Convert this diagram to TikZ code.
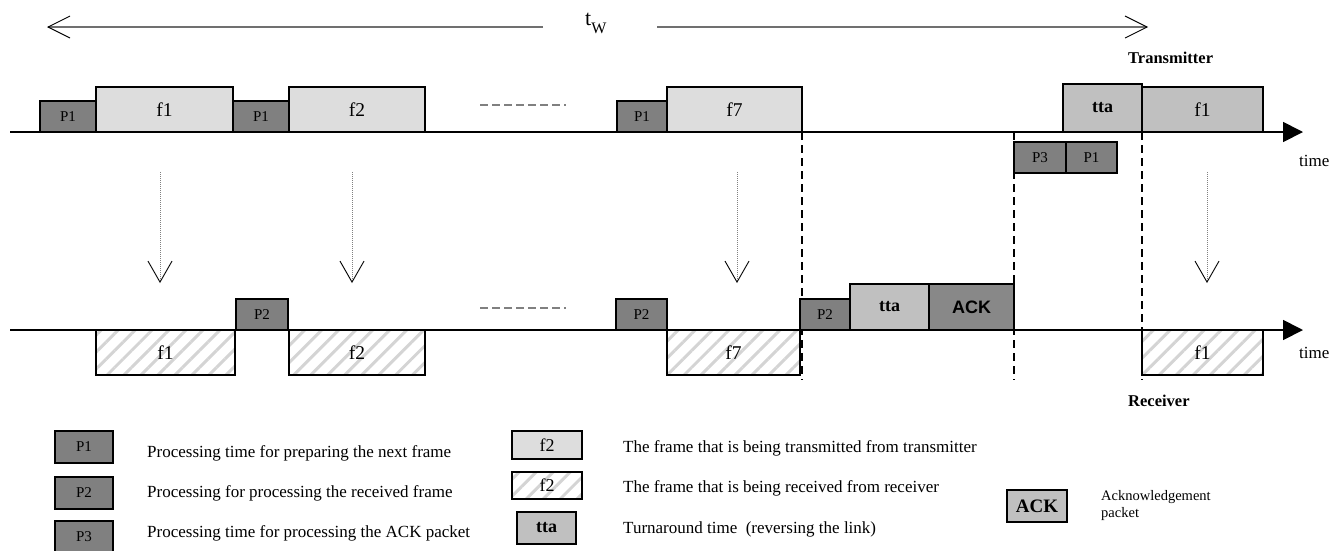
\documentclass[tikz,border=0pt]{standalone}
\usepackage{fontspec}
\setmainfont{Liberation Serif}
\newfontfamily\arialfont{Liberation Sans}
\usetikzlibrary{arrows.meta,patterns.meta}
\definecolor{pdark}{HTML}{808080}
\definecolor{flight}{HTML}{DDDDDD}
\definecolor{fmid}{HTML}{C0C0C0}
\definecolor{ackdark}{HTML}{888888}
\definecolor{hatchgray}{HTML}{D4D4D4}
\definecolor{twgray}{HTML}{707070}
\newcommand\fs[1]{\fontsize{#1}{#1}\selectfont}
\begin{document}
\begin{tikzpicture}[x=1pt,y=-1pt,
  box/.style={draw=black,line width=1.5pt,inner sep=0pt,outer sep=0pt},
  pbox/.style={box,fill=pdark,font=\fs{15}},
  fbox/.style={box,fill=flight,font=\fs{19.5}},
  mbox/.style={box,fill=fmid,font=\fs{19.5}},
  hbox/.style={box,pattern={Lines[angle=45,distance=12pt,line width=3pt]},pattern color=hatchgray,font=\fs{19.5}},
  ttabox/.style={box,fill=fmid,font=\fs{18}\bfseries},
  ackbox/.style={box,fill=ackdark,font=\arialfont\fs{18}\bfseries},
  legtext/.style={anchor=base west,inner sep=0pt,font=\fs{17}},
  timeline/.style={line width=1.8pt,-{Triangle[length=20pt,width=20pt]}},
  vdash/.style={line width=1.6pt,dash pattern=on 8pt off 5pt},
  dotarrow/.style={draw=gray,line width=0.8pt,dash pattern=on 1pt off 1pt,-{Straight Barb[length=21pt,width=24pt,line width=0.9pt,color=black]}},
  twline/.style={draw=twgray,line width=1.3pt,-{Straight Barb[length=22pt,width=22pt,line width=0.9pt,color=black]}},
  gdash/.style={draw=gray,line width=1.5pt,dash pattern=on 8pt off 4pt}
]
\useasboundingbox (0,0) rectangle (1333,550);

% t_w span arrow
\coordinate (twl) at (47,27);
\coordinate (twla) at (543,27);
\coordinate (twra) at (657,27);
\coordinate (twr) at (1148,27);
\draw[twline] (twla) -- (twl);
\draw[twline] (twra) -- (twr);
\node[anchor=base west,inner sep=0pt] (tw) at (585,25) {\fs{22}t\raisebox{-8pt}{\fs{16}W}};

\node[anchor=base west,inner sep=0pt,font=\fs{16.5}\bfseries] (tx) at (1128,63) {Transmitter};
\node[anchor=base west,inner sep=0pt,font=\fs{16.5}\bfseries] (rx) at (1128,406) {Receiver};
\node[anchor=base west,inner sep=0pt,font=\fs{17}] (time1) at (1299,166) {time};
\node[anchor=base west,inner sep=0pt,font=\fs{17}] (time2) at (1299,358) {time};

% vertical dashed lines
\coordinate (v1t) at (802,132); \coordinate (v1b) at (802,380);
\coordinate (v2t) at (1014,132); \coordinate (v2b) at (1014,380);
\coordinate (v3t) at (1142,132); \coordinate (v3b) at (1142,380);
\draw[vdash] (v1t) -- (v1b);
\draw[vdash] (v2t) -- (v2b);
\draw[vdash] (v3t) -- (v3b);

% timelines
\coordinate (ta) at (10,132); \coordinate (tb) at (1303,132);
\coordinate (ra) at (10,330); \coordinate (rb) at (1303,330);
\draw[timeline] (ta) -- (tb);
\draw[timeline] (ra) -- (rb);

% dotted propagation arrows
\foreach \x/\n in {160/a,352/b,737/c,1207/d}{
  \coordinate (ds\n) at (\x,172);
  \coordinate (de\n) at (\x,283);
  \draw[dotarrow] (ds\n) -- (de\n);
}

% gray dash "------."
\coordinate (g1a) at (480,105); \coordinate (g1b) at (566,105);
\coordinate (g2a) at (480,308); \coordinate (g2b) at (566,308);
\draw[gdash] (g1a) -- (g1b);
\draw[gdash] (g2a) -- (g2b);

% transmitter row
\node[pbox,anchor=south west,minimum width=56pt,minimum height=31pt] (tp1a) at (40,132) {P1};
\node[fbox,anchor=south west,minimum width=137pt,minimum height=45pt] (tf1) at (96,132) {f1};
\node[pbox,anchor=south west,minimum width=56pt,minimum height=31pt] (tp1b) at (233,132) {P1};
\node[fbox,anchor=south west,minimum width=136pt,minimum height=45pt] (tf2) at (289,132) {f2};
\node[pbox,anchor=south west,minimum width=50pt,minimum height=31pt] (tp1c) at (617,132) {P1};
\node[fbox,anchor=south west,minimum width=135pt,minimum height=45pt] (tf7) at (667,132) {f7};
\node[ttabox,anchor=south west,minimum width=79pt,minimum height=48pt] (ttta) at (1063,132) {tta};
\node[mbox,anchor=south west,minimum width=121pt,minimum height=45pt] (tf1r) at (1142,132) {f1};
\node[pbox,anchor=north west,minimum width=52pt,minimum height=31pt] (tp3) at (1014,142) {P3};
\node[pbox,anchor=north west,minimum width=51pt,minimum height=31pt] (tp1d) at (1066,142) {P1};

% receiver row
\node[hbox,anchor=north west,minimum width=139pt,minimum height=45pt] (bf1) at (96,330) {f1};
\node[pbox,anchor=south west,minimum width=52pt,minimum height=31pt] (bp2a) at (236,330) {P2};
\node[hbox,anchor=north west,minimum width=136pt,minimum height=45pt] (bf2) at (289,330) {f2};
\node[pbox,anchor=south west,minimum width=51pt,minimum height=31pt] (bp2b) at (616,330) {P2};
\node[hbox,anchor=north west,minimum width=133pt,minimum height=45pt] (bf7) at (667,330) {f7};
\node[pbox,anchor=south west,minimum width=50pt,minimum height=31pt] (bp2c) at (800,330) {P2};
\node[ttabox,anchor=south west,minimum width=79pt,minimum height=46pt] (btta) at (850,330) {tta};
\node[ackbox,anchor=south west,minimum width=85pt,minimum height=46pt] (back) at (929,330) {ACK};
\node[hbox,anchor=north west,minimum width=121pt,minimum height=45pt] (bf1r) at (1142,330) {f1};

% legend
\node[pbox,anchor=north west,minimum width=58pt,minimum height=32pt] (lp1) at (55,431) {P1};
\node[pbox,anchor=north west,minimum width=58pt,minimum height=32pt] (lp2) at (55,477) {P2};
\node[pbox,anchor=north west,minimum width=58pt,minimum height=32pt] (lp3) at (55,521) {P3};
\node[legtext] (lt1) at (147,457) {Processing time for preparing the next frame};
\node[legtext] (lt2) at (147,497) {Processing for processing the received frame};
\node[legtext] (lt3) at (147,537) {Processing time for processing the ACK packet};

\node[fbox,anchor=north west,minimum width=70pt,minimum height=28pt,font=\fs{18}] (lf) at (512,431) {f2};
\node[hbox,anchor=north west,minimum width=70pt,minimum height=27pt,font=\fs{18}] (lh) at (512,472) {f2};
\node[ttabox,anchor=north west,minimum width=59pt,minimum height=32pt] (ltta) at (517,512) {tta};
\node[legtext] (lt4) at (623,452) {The frame that is being transmitted from transmitter};
\node[legtext] (lt5) at (623,492) {The frame that is being received from receiver};
\node[legtext] (lt6) at (623,533) {Turnaround time\ \ (reversing the link)};

\node[box,fill=fmid,font=\fs{19}\bfseries,anchor=north west,minimum width=60pt,minimum height=32pt] (lack) at (1007,490) {ACK};
\node[anchor=base west,inner sep=0pt,font=\fs{14.5}] (lt7) at (1101,500) {Acknowledgement};
\node[anchor=base west,inner sep=0pt,font=\fs{14.5}] (lt8) at (1101,517) {packet};
\end{tikzpicture}
\end{document}
